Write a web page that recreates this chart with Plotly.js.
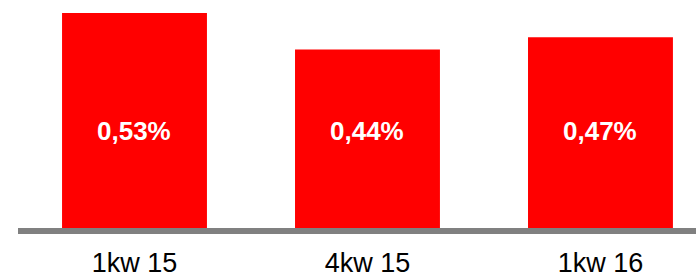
<!DOCTYPE html>
<html>
<head>
<meta charset="utf-8">
<script src="https://cdn.plot.ly/plotly-3.0.1.min.js"></script>
<style>html,body{margin:0;padding:0;background:#fff;}#chart{width:696px;height:277px;}</style>
</head>
<body>
<div id="chart"></div>
<script>
const categories = ["1kw 15", "4kw 15", "1kw 16"];
const values = [0.53, 0.44, 0.47];
const valueLabels = ["0,53%", "0,44%", "0,47%"];
const labelLevel = 0.238;

const trace = {
  type: "bar",
  x: categories,
  y: values,
  marker: {color: "#FF0000", line: {width: 0}},
  width: 0.622,
  hoverinfo: "none"
};

const annotations = categories.map((c, i) => ({
  x: c, y: labelLevel, xref: "x", yref: "y",
  text: "<b>" + valueLabels[i] + "</b>",
  showarrow: false,
  font: {family: "Liberation Sans, Arial, sans-serif", size: 26, color: "#FFFFFF"},
  yanchor: "middle", xanchor: "center"
}));

const layout = {
  width: 696, height: 277,
  margin: {l: 18, r: 0, t: 0, b: 49, pad: 0},
  paper_bgcolor: "#FFFFFF", plot_bgcolor: "#FFFFFF",
  showlegend: false,
  xaxis: {
    type: "category",
    range: [-0.5, 2.41],
    showgrid: false, zeroline: false,
    showline: false,
    ticks: "",
    ticklabelstandoff: 16,
    tickfont: {family: "Liberation Sans, Arial, sans-serif", size: 27, color: "#000000"}
  },
  yaxis: {
    range: [0, 0.562],
    showgrid: false, zeroline: false, showline: false,
    showticklabels: false, ticks: ""
  },
  shapes: [{
    type: "rect", xref: "paper", yref: "paper",
    x0: 0, x1: 1.05, y0: -6 / 228, y1: 0,
    fillcolor: "#808080", line: {width: 0}, layer: "above"
  }],
  annotations: annotations
};

Plotly.newPlot("chart", [trace], layout, {displayModeBar: false, staticPlot: true});
</script>
</body>
</html>
